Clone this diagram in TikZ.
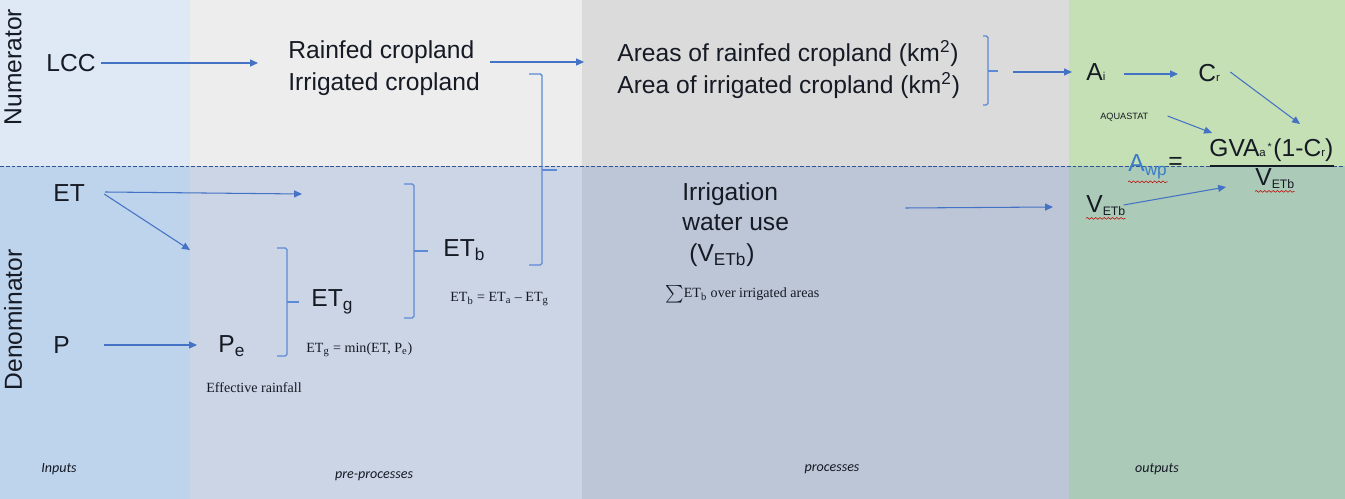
\documentclass[tikz,border=0pt]{standalone}
\usepackage{fontspec}
\setmainfont{Liberation Sans}
\newfontfamily\cambriafont{Liberation Serif}
\newfontfamily\calibrifont{Carlito}
\usetikzlibrary{arrows.meta,decorations.pathmorphing}

\definecolor{arrblue}{HTML}{4472C4}
\definecolor{brkblue}{HTML}{5B8AD6}
\definecolor{dashblue}{HTML}{2F5597}
\definecolor{wpblue}{HTML}{3A7DC9}
\definecolor{inTop}{HTML}{DEE9F5}
\definecolor{inBot}{HTML}{BED3EC}
\definecolor{preTop}{HTML}{EDEDED}
\definecolor{preBot}{HTML}{CCD5E6}
\definecolor{prcTop}{HTML}{DBDBDB}
\definecolor{prcBot}{HTML}{BDC6D7}
\definecolor{outTop}{HTML}{C5E0B4}
\definecolor{outBot}{HTML}{ABCAB7}
\definecolor{ink}{HTML}{151A24}

% small subscripts of the output formula
\newcommand{\osub}[1]{{\fontsize{6.5}{7}\selectfont #1}}
\newcommand{\vsub}[1]{\raisebox{-1.6pt}{\fontsize{7}{8}\selectfont #1}}

\tikzset{
  arr/.style={arrblue,line width=0.6pt,-{Triangle[length=4.5pt,width=4pt]}},
  brk/.style={brkblue,line width=0.8pt,rounded corners=1pt},
  bigtxt/.style={ink,font=\fontsize{14}{17}\selectfont,inner sep=0pt,anchor=base west},
  notetxt/.style={ink,font=\cambriafont\fontsize{8}{10}\selectfont,inner sep=0pt,anchor=base west},
  aquatxt/.style={ink,font=\fontsize{5.2}{6}\selectfont,inner sep=0pt,anchor=base west},
  coltxt/.style={ink,font=\calibrifont\itshape\fontsize{8}{10}\selectfont,inner sep=0pt},
  squig/.style={red!75!black,line width=0.3pt,decorate,decoration={snake,amplitude=0.5pt,segment length=2.4pt}}
}

\begin{document}
\begin{tikzpicture}[x=0.02cm,y=-0.02cm]
  \def\xa{190} \def\xb{582} \def\xc{1069}
  \def\ymid{166}
  \useasboundingbox (0,0) rectangle (1345,499);

  % columns: numerator on top, denominator below
  \foreach \xl/\xr/\ctop/\cbot in {0/\xa/inTop/inBot,\xa/\xb/preTop/preBot,\xb/\xc/prcTop/prcBot,\xc/1345/outTop/outBot}{
      \fill[\ctop] (\xl,0) rectangle (\xr,\ymid);
      \fill[\cbot] (\xl,\ymid) rectangle (\xr,499);
  }
  \draw[dashblue,line width=0.5pt,dash pattern=on 2.2pt off 1.1pt] (0,\ymid)--(1345,\ymid);

  \node[bigtxt,rotate=90,anchor=center] (num) at (13,67) {Numerator};
  \node[bigtxt,rotate=90,anchor=center] (den) at (13,320) {Denominator};

  % inputs
  \node[bigtxt] (lcc) at (46,72) {LCC};
  \node[bigtxt] (et) at (53,202) {ET};
  \node[bigtxt] (p) at (53,354) {P};

  % pre-processes
  \node[bigtxt] (rain) at (288,59) {Rainfed cropland};
  \node[bigtxt] (irr) at (288,91) {Irrigated cropland};
  \node[bigtxt] (pe) at (218,353) {P\textsubscript{e}};
  \node[notetxt] (eff) at (206,393) {Effective rainfall};
  \node[bigtxt] (etg) at (311,307) {ET\textsubscript{g}};
  \node[notetxt] (etgdef) at (306,353) {ET\textsubscript{g} = min(ET, P\textsubscript{e})};
  \node[bigtxt] (etb) at (443,257) {ET\textsubscript{b}};
  \node[notetxt] (etbdef) at (450,302) {ET\textsubscript{b} = ET\textsubscript{a} – ET\textsubscript{g}};

  % processes
  \node[bigtxt] (arain) at (617,62) {Areas of rainfed cropland (km\textsuperscript{2})};
  \node[bigtxt] (airr) at (617,94) {Area of irrigated cropland (km\textsuperscript{2})};
  \node[bigtxt] (iwu1) at (682,201) {Irrigation};
  \node[bigtxt] (iwu2) at (682,231) {water use};
  \node[bigtxt] (iwu3) at (689,262) {(V\textsubscript{ETb})};
  \node[notetxt] (sumetb) at (665,298) {$\sum$ET\textsubscript{b} over irrigated areas};

  % outputs
  \node[bigtxt] (ai) at (1086,81) {A\osub{i}};
  \node[bigtxt] (cr) at (1198,82) {C\osub{r}};
  \node[aquatxt] (aqua) at (1100,120) {AQUASTAT};
  \node[bigtxt] (gva) at (1209,157) {GVA\osub{a}\raisebox{0.5ex}{\fontsize{6}{6}\selectfont\,*\,}(1-C\osub{r})};
  \node[bigtxt,wpblue] (awp) at (1128,172) {A\textsubscript{wp}};
  \node[bigtxt] (eq) at (1168,170) {=};
  \node[bigtxt] (vetb) at (1255,186) {V\vsub{ETb}};
  \node[bigtxt] (vin) at (1086,213) {V\vsub{ETb}};
  \draw[ink,line width=0.6pt] (1210,166)--(1334,166);
  \foreach \n in {awp,vetb,vin}
      \draw[squig] ([yshift=-1.2pt]\n.south west)--([yshift=-1.2pt]\n.south east);

  % brackets
  \foreach \x/\xl/\yt/\yb/\ym/\xr in {287/277/248/356/302/299,414/404/184/318/251/428,542/529/74/265/170/557,988/983/36/105/71/998}{
      \draw[brk] (\xl,\yt)--(\x,\yt)--(\x,\yb)--(\xl,\yb);
      \draw[brk] (\x,\ym)--(\xr,\ym);
  }

  % arrows
  \coordinate (etfree) at (302,194);
  \coordinate (etdiag) at (190,250);
  \draw[arr] ([shift={(5,-9)}]lcc.base east)--([shift={(-30,-9)}]lcc.base east -| rain.west);
  \draw[arr] ([shift={(10,3)}]rain.base -| irr.east)--([shift={(-33,3)}]rain.base -| arain.west);
  \draw[arr] ([shift={(53,-9)}]ai.base -| airr.east)--([shift={(-14,-9)}]ai.base west);
  \draw[arr] ([shift={(18,-7)}]ai.base east)--([shift={(-20,-8)}]cr.base west);
  \draw[arr] ([shift={(10,-10)}]cr.base east)--([shift={(91,-33)}]gva.base west);
  \draw[arr] ([shift={(19,-4)}]aqua.base east)--([shift={(3,-24)}]gva.base west);
  \draw[arr] ([shift={(-2,-8)}]vin.base east)--([shift={(-29,1)}]vetb.base west);
  \draw[arr] ([shift={(127,7)}]iwu1.base east)--([shift={(-33,-6)}]vin.base west);
  \draw[arr] ([shift={(20,-10)}]et.base east)--(etfree);
  \draw[arr] ([shift={(19,-8)}]et.base east)--(etdiag);
  \draw[arr] ([shift={(34,-9)}]p.base east)--([shift={(-21,-8)}]pe.base west);

  \node[coltxt] (lin) at (59,469) {Inputs};
  \node[coltxt] (lpre) at (374,476) {pre-processes};
  \node[coltxt] (lprc) at (832,469) {processes};
  \node[coltxt] (lout) at (1157,469) {outputs};
\end{tikzpicture}
\end{document}
